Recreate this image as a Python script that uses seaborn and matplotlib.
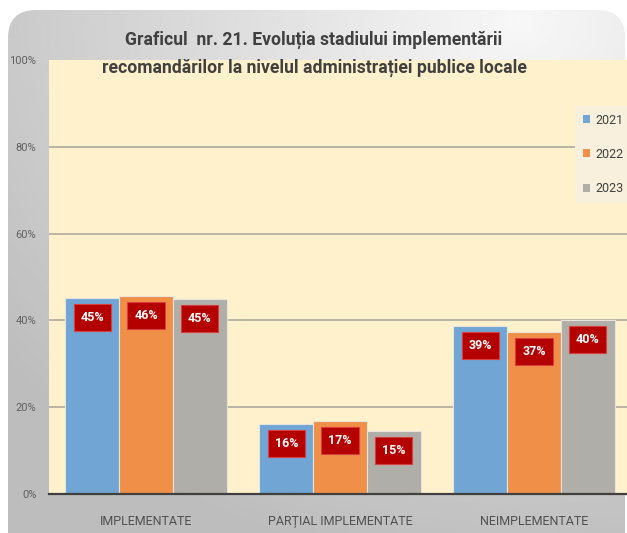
import numpy as np
import pandas as pd
import matplotlib
matplotlib.use("Agg")
import matplotlib.pyplot as plt
from matplotlib.patches import FancyBboxPatch, Patch
import seaborn as sns

# data
categories = ["IMPLEMENTATE", "PARȚIAL IMPLEMENTATE", "NEIMPLEMENTATE"]
years = ["2021", "2022", "2023"]
vals_2021 = [45.2, 16.1, 38.7]
vals_2022 = [45.6, 16.8, 37.3]
vals_2023 = [45.0, 14.5, 40.0]
labels_2021 = ["45%", "16%", "39%"]
labels_2022 = ["46%", "17%", "37%"]
labels_2023 = ["45%", "15%", "40%"]

title = ("Graficul  nr. 21. Evoluția stadiului implementării\n"
         "recomandărilor la nivelul administrației publice locale")

colors = ["#70a5d4", "#f08f48", "#b0aea8"]

df = pd.DataFrame({
    "cat": categories * 3,
    "year": [y for y in years for _ in categories],
    "val": vals_2021 + vals_2022 + vals_2023,
    "lab": labels_2021 + labels_2022 + labels_2023,
})

sns.set_style("white")
plt.rcParams['font.family'] = ['Roboto', 'DejaVu Sans']

W, H = 627, 533
fig = plt.figure(figsize=(W / 100, H / 100), dpi=100)
fig.patch.set_facecolor("white")

# gray rounded background with gradient
ax_bg = fig.add_axes([0, 0, 1, 1], zorder=-5)
ax_bg.set_xlim(0, W)
ax_bg.set_ylim(H, 0)
ax_bg.axis("off")
xx, yy = np.meshgrid(np.linspace(0, W, 300), np.linspace(0, H, 260))
d = np.sqrt(((xx - 520) / W) ** 2 + ((yy - 20) / H) ** 2)
g = np.clip(0.97 - 0.22 * d, 0.74, 0.97)
img = ax_bg.imshow(g, cmap="gray", vmin=0, vmax=1, extent=(0, W, H, 0), aspect="auto")
box = FancyBboxPatch((8, 10), 617, 580, boxstyle="round,pad=0,rounding_size=28",
                     transform=ax_bg.transData, facecolor="none", edgecolor="none")
ax_bg.add_patch(box)
img.set_clip_path(box)

# main plot area
ax = fig.add_axes([49 / W, 39 / H, 582 / W, 434 / H])
ax.set_facecolor("#fff1cc")
sns.barplot(data=df, x="cat", y="val", hue="year", palette=colors, width=0.83,
            gap=0.0, saturation=1, edgecolor="#e8e4dc", linewidth=0.8, ax=ax,
            legend=False, zorder=3)

ax.set_ylim(0, 100)
ax.set_xlim(-0.5, 2.5)
ax.set_yticks([0, 20, 40, 60, 80, 100])
ax.set_yticklabels(["0%", "20%", "40%", "60%", "80%", "100%"], color="#606060", fontsize=8)
for yv in [20, 40, 60, 80]:
    ax.axhline(yv, color="#a8a49c", lw=1.1, zorder=1)
ax.set_xlabel("")
ax.set_ylabel("")
ax.tick_params(axis="y", length=0, pad=9)
ax.tick_params(axis="x", which="major", direction="inout", length=6, color="#404040",
               labelsize=9, labelcolor="#505050", pad=12)
ax.set_xticks([-0.5, 0.5, 1.5], minor=True)
ax.tick_params(axis="x", which="minor", direction="out", length=4, color="#404040")
for s in ["top", "right", "left"]:
    ax.spines[s].set_visible(False)
ax.spines["bottom"].set_color("#404040")
ax.spines["bottom"].set_linewidth(1.6)
ax.spines["bottom"].set_zorder(5)

# data labels
for bars, labs in zip(ax.containers, [labels_2021, labels_2022, labels_2023]):
    for bar, lab in zip(bars, labs):
        ax.annotate(lab, (bar.get_x() + bar.get_width() / 2, bar.get_height()),
                    xytext=(0, -14), textcoords="offset points", ha="center", va="center",
                    color="white", fontsize=9, fontweight="bold", zorder=6,
                    bbox=dict(boxstyle="square,pad=0.55", facecolor="#b50000",
                              edgecolor="#d84040", lw=0.8))

# legend
handles = [Patch(facecolor=c, edgecolor="none") for c in colors]
leg = fig.legend(handles, years, loc="upper left", bbox_to_anchor=(575 / W, 1 - 106 / H),
                 frameon=True, fontsize=9, handlelength=0.6, handleheight=0.6,
                 handletextpad=0.4, labelspacing=1.7, borderpad=0.6, labelcolor="#404040",
                 borderaxespad=0)
leg.get_frame().set_facecolor("#f8f0dc")
leg.get_frame().set_edgecolor("none")
leg.get_frame().set_alpha(1)

fig.text(314 / W, 1 - 54 / H, title, ha="center", va="center", fontsize=12.7,
         fontweight="bold", color="#404040", linespacing=1.65)

fig.savefig("out.png", dpi=100, facecolor="white")
